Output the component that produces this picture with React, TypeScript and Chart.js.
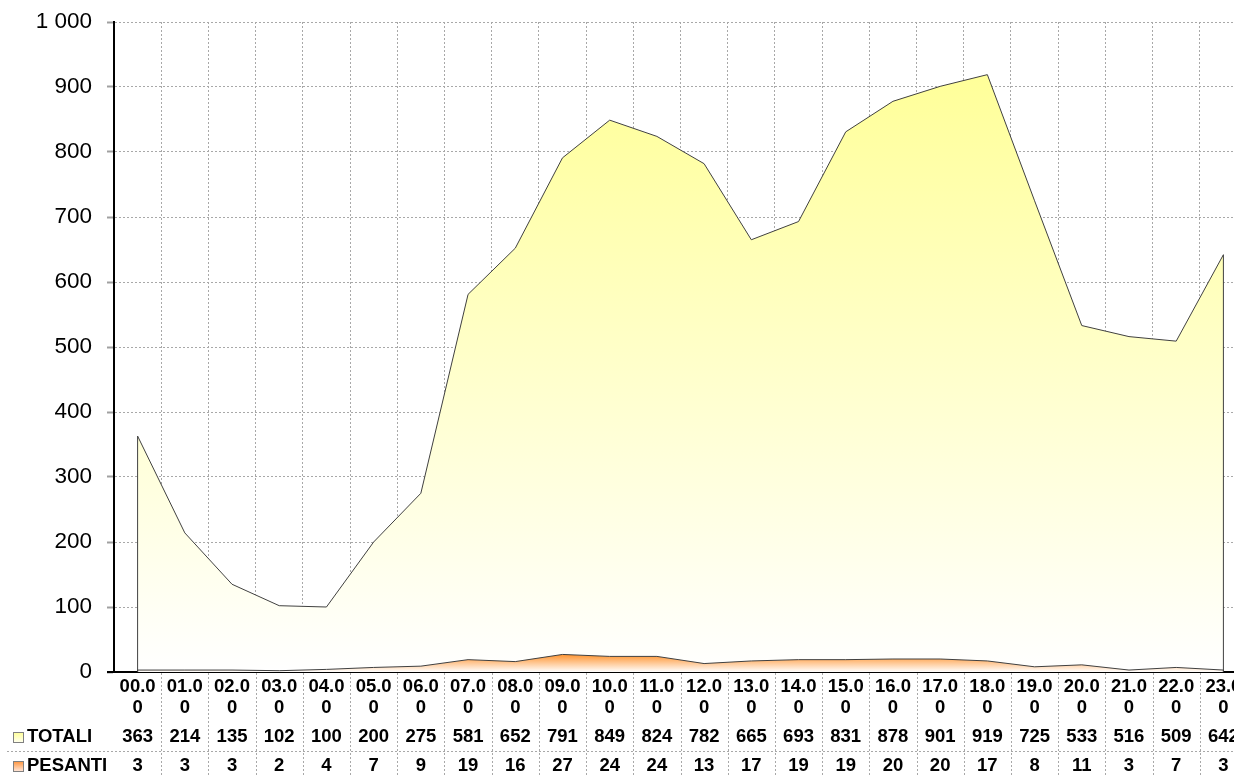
import React, { useEffect, useRef } from "react";
import { Chart, registerables } from "chart.js";

Chart.register(...registerables);

const HOURS = [
  "00.00", "01.00", "02.00", "03.00", "04.00", "05.00", "06.00", "07.00",
  "08.00", "09.00", "10.00", "11.00", "12.00", "13.00", "14.00", "15.00",
  "16.00", "17.00", "18.00", "19.00", "20.00", "21.00", "22.00", "23.00",
];
const TOTALI = [363, 214, 135, 102, 100, 200, 275, 581, 652, 791, 849, 824, 782, 665, 693, 831, 878, 901, 919, 725, 533, 516, 509, 642];
const PESANTI = [3, 3, 3, 2, 4, 7, 9, 19, 16, 27, 24, 24, 13, 17, 19, 19, 20, 20, 17, 8, 11, 3, 7, 3];
const SERIES_NAMES = ["TOTALI", "PESANTI"];
const Y_MIN = 0;
const Y_MAX = 1000;
const Y_STEP = 100;

const FONT = "'Liberation Sans', Arial, sans-serif";

function fmt(v: number): string {
  return String(v).replace(/\B(?=(\d{3})+(?!\d))/g, " ");
}

function gradientFor(chart: any, data: number[], top: string, bottom: string) {
  const area = chart.chartArea;
  const y = chart.scales.y;
  if (!area || !y) return top;
  const yTop = y.getPixelForValue(Math.max(...data));
  const yBot = y.getPixelForValue(0);
  const g = chart.ctx.createLinearGradient(0, yTop, 0, yBot);
  g.addColorStop(0, top);
  g.addColorStop(1, bottom);
  return g;
}

const edgePlugin = {
  id: "edges",
  afterDatasetsDraw(chart: any) {
    const ctx = chart.ctx;
    const y0 = chart.scales.y.getPixelForValue(0);
    ctx.save();
    ctx.strokeStyle = "#404040";
    ctx.lineWidth = 1;
    chart.data.datasets.forEach((_ds: any, di: number) => {
      const meta = chart.getDatasetMeta(di);
      const pts = meta.data;
      if (!pts.length) return;
      const first = pts[0];
      const last = pts[pts.length - 1];
      ctx.beginPath();
      ctx.moveTo(first.x, first.y);
      ctx.lineTo(first.x, y0);
      ctx.moveTo(last.x, last.y);
      ctx.lineTo(last.x, y0);
      ctx.stroke();
    });
    // x axis line extends to the left tick
    ctx.strokeStyle = "#000";
    ctx.lineWidth = 2;
    ctx.beginPath();
    ctx.moveTo(chart.chartArea.left - 7, Math.round(y0));
    ctx.lineTo(chart.chartArea.left, Math.round(y0));
    ctx.stroke();
    ctx.restore();
  },
};

const tablePlugin = {
  id: "dataTable",
  afterDraw(chart: any) {
    const ctx = chart.ctx;
    const xs = chart.scales.x;
    const area = chart.chartArea;
    const n = HOURS.length;
    const w = (xs.right - xs.left) / n;
    const H = chart.height;
    const row1 = area.bottom + 65;
    const row2 = area.bottom + 94;
    const sepY = area.bottom + 79;
    ctx.save();
    ctx.strokeStyle = "#a8a8a8";
    ctx.lineWidth = 1;
    ctx.setLineDash([2, 2]);
    for (let i = 1; i <= n; i++) {
      const xb = Math.round(xs.getPixelForValue(i) - w / 2) + 0.5;
      ctx.beginPath();
      ctx.moveTo(xb, area.bottom + 1);
      ctx.lineTo(xb, H);
      ctx.stroke();
    }
    ctx.beginPath();
    ctx.moveTo(7, Math.round(sepY) + 0.5);
    ctx.lineTo(chart.width, Math.round(sepY) + 0.5);
    ctx.stroke();
    ctx.setLineDash([]);

    ctx.fillStyle = "#000";
    ctx.font = `bold 18.5px ${FONT}`;
    ctx.textAlign = "center";
    ctx.textBaseline = "middle";
    for (let i = 0; i < n; i++) {
      const cx = xs.getPixelForValue(i);
      ctx.fillText(String(TOTALI[i]), cx, row1);
      ctx.fillText(String(PESANTI[i]), cx, row2);
    }
    ctx.textAlign = "left";
    ctx.fillText(SERIES_NAMES[0], 27, row1);
    ctx.fillText(SERIES_NAMES[1], 27, row2);

    const key = (cy: number, c1: string, c2: string) => {
      const top = Math.round(cy - 5) + 0.5;
      const g = ctx.createLinearGradient(0, top, 0, top + 10);
      g.addColorStop(0, c1);
      g.addColorStop(1, c2);
      ctx.fillStyle = g;
      ctx.fillRect(13.5, top, 10, 10);
      ctx.strokeStyle = "#808080";
      ctx.lineWidth = 1;
      ctx.strokeRect(13.5, top, 10, 10);
    };
    key(row1, "#FFFF99", "#FFFFF0");
    key(row2, "#FF9640", "#FFE8DC");
    ctx.restore();
  },
};

export default function App() {
  const ref = useRef<HTMLCanvasElement | null>(null);
  useEffect(() => {
    if (!ref.current) return;
    const chart = new Chart(ref.current, {
      type: "line",
      data: {
        labels: HOURS.map((h) => [h.slice(0, 4), h.slice(4)]),
        datasets: [
          {
            label: SERIES_NAMES[1],
            data: PESANTI,
            borderColor: "#404040",
            borderWidth: 1,
            pointRadius: 0,
            tension: 0,
            fill: "origin",
            backgroundColor: (c: any) => gradientFor(c.chart, PESANTI, "#FF9430", "#FFFFFF"),
          },
          {
            label: SERIES_NAMES[0],
            data: TOTALI,
            borderColor: "#404040",
            borderWidth: 1,
            pointRadius: 0,
            tension: 0,
            fill: "origin",
            backgroundColor: (c: any) => gradientFor(c.chart, TOTALI, "#FFFF99", "#FFFFFF"),
          },
        ],
      },
      options: {
        responsive: false,
        animation: false,
        devicePixelRatio: 1,
        layout: { padding: { top: 22, left: 0, right: 0, bottom: 0 } },
        plugins: { legend: { display: false }, tooltip: { enabled: false }, title: { display: false } },
        scales: {
          x: {
            type: "category",
            offset: true,
            grid: {
              display: true,
              offset: true,
              color: "#a8a8a8",
              lineWidth: 1,
              drawTicks: false,
            },
            border: { display: true, color: "#000", width: 2, dash: [2, 2] },
            ticks: {
              autoSkip: false,
              maxRotation: 0,
              minRotation: 0,
              padding: 4,
              color: "#000",
              font: { family: FONT, size: 18.5, weight: "bold", lineHeight: 1.14 },
            },
            afterFit: (s: any) => {
              s.height = 104;
            },
          },
          y: {
            min: Y_MIN,
            max: Y_MAX,
            grid: {
              color: "#a8a8a8",
              lineWidth: 1,
              drawTicks: true,
              tickLength: 7,
              tickColor: "#a0a0a0",
              tickWidth: 2,
              tickBorderDash: [],
            },
            border: { display: true, color: "#000", width: 2, dash: [2, 2] },
            ticks: {
              stepSize: Y_STEP,
              padding: 15,
              color: "#000",
              font: { family: FONT, size: 22.5 },
              callback: (v: any) => fmt(Number(v)),
            },
            afterFit: (s: any) => {
              s.width = 114;
              s.paddingTop = 12;
              s.paddingBottom = 12;
            },
          },
        },
      },
      plugins: [edgePlugin, tablePlugin],
    });
    return () => chart.destroy();
  }, []);
  return (
    <div style={{ position: "absolute", left: 0, top: 0, width: 1234, height: 776, overflow: "hidden", background: "#fff" }}>
      <canvas ref={ref} width={1247} height={776} style={{ display: "block", width: 1247, height: 776 }} />
    </div>
  );
}
